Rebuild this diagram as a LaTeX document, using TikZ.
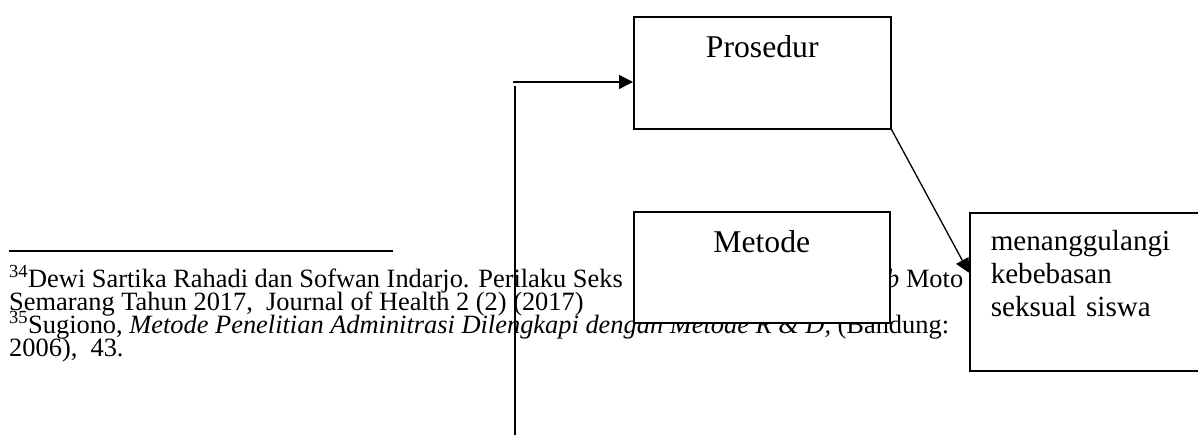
\documentclass[tikz,border=0pt]{standalone}
\usepackage{fontspec}
\setmainfont{Liberation Serif}
\usepackage{tikz}
\usetikzlibrary{arrows.meta,positioning}

\tikzset{
	kotak/.style={draw,fill=white,line width=1.5pt,inner sep=0pt,anchor=north west,font=\fontsize{31.7}{36}\selectfont},
	catatan/.style={anchor=base west,inner sep=0pt,font=\fontsize{26.4}{23}\selectfont},
	panah/.style={line width=1.3pt,-{Triangle[length=14pt,width=14pt]}}
}

\begin{document}
\begin{tikzpicture}[x=1pt,y=-1pt]
	\useasboundingbox (0,0) rectangle (1198,434);
	% footnotes behind the boxes
	\coordinate (garisA) at (9,251);
	\coordinate (garisB) at (393,251);
	\draw[line width=2.2pt] (garisA) -- (garisB);
	\node[catatan] (fn1) at (9,287) {\textsuperscript{34}Dewi Sartika Rahadi dan Sofwan Indarjo. Perilaku Seks};
	\node[catatan] (fn1b) at (886,287) {\textit{b} Moto};
	\node[catatan] (fn2) at (9,310) {Semarang Tahun 2017,\ \ Journal of Health 2 (2) (2017)};
	\node[catatan] (fn3) at (9,333) {\textsuperscript{35}Sugiono, \textit{Metode Penelitian Adminitrasi Dilengkapi dengan Metode R \& D,} (Bandung:};
	\node[catatan] (fn4) at (9,356) {2006),\ \ 43.};
	% boxes
	\node[kotak,text width=257pt,align=center,text height=41pt,text depth=71pt] (prosedur) at (633,16) {Prosedur};
	\node[kotak,text width=256pt,align=center,text height=41pt,text depth=70pt] (metode) at (633,211) {Metode};
	\node[kotak,font=\fontsize{29.1}{33}\selectfont,inner xsep=21pt,text width=200pt,align=left,text height=38pt,text depth=120pt] (tujuan) at (969,212) {menanggulangi\\kebebasan\\seksual siswa};
	% connectors
	\coordinate (masuk) at (513,82);
	\coordinate (vatas) at (515,86);
	\coordinate (vbawah) at (515,440);
	\draw[panah] (masuk) -- (prosedur.west |- masuk);
	\draw[line width=1.3pt] (vatas) -- (vbawah);
	\draw[panah] (prosedur.south east) -- ([yshift=19pt]tujuan.west);
\end{tikzpicture}
\end{document}
